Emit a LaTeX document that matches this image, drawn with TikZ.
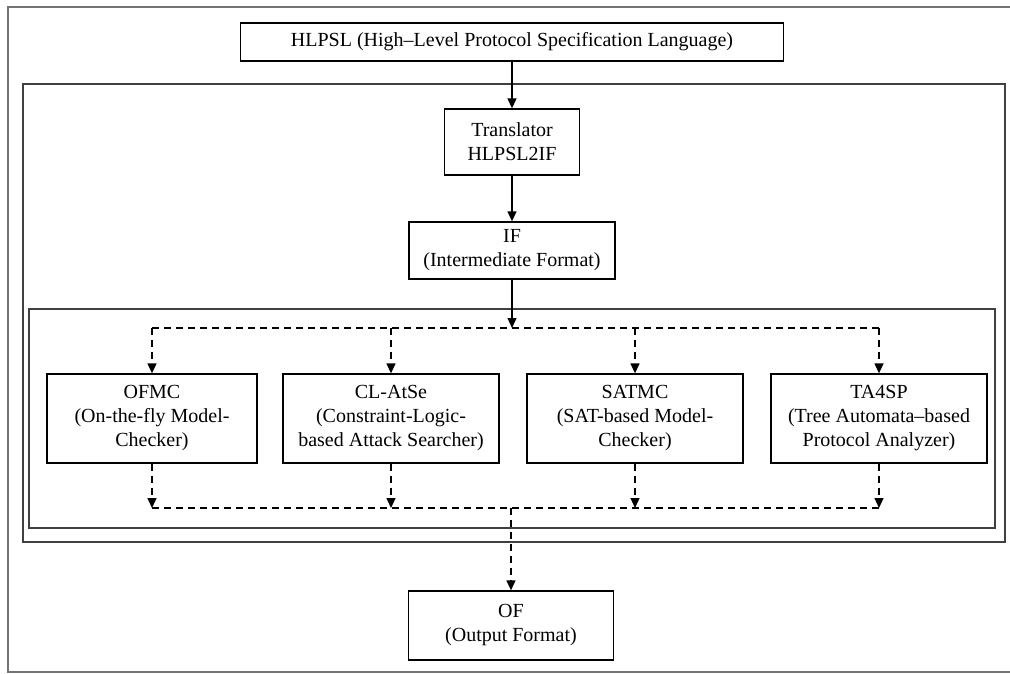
\documentclass[tikz,border=0pt]{standalone}
\usepackage{fontspec}
\setmainfont{Liberation Serif}
\usetikzlibrary{arrows.meta}
\begin{document}
\begin{tikzpicture}[x=1pt,y=-1pt,
  box/.style={draw=black,line width=1.3pt,rectangle,inner sep=0pt,align=center,
    font=\fontsize{20}{24}\selectfont},
  container/.style={draw=black!75,line width=1.5pt,rectangle,inner sep=0pt},
  frame/.style={draw=black!55,line width=1.4pt,rectangle,inner sep=0pt},
  solidarrow/.style={line width=1.3pt,-{Triangle[length=10pt,width=9pt]}},
  dashline/.style={line width=1.3pt,dash pattern=on 7pt off 5pt},
  dasharrow/.style={dashline,-{Triangle[length=10pt,width=9pt]}}]
\useasboundingbox (0,0) rectangle (1010,674);
% frames (the outer frame runs past the right edge of the picture)
\node[frame,minimum width=1006pt,minimum height=665pt] (outer) at (511,339.5) {};
\node[container,minimum width=982pt,minimum height=458pt] (big) at (514,313) {};
\node[container,minimum width=966pt,minimum height=219pt] (inner) at (512,418.5) {};
% boxes
\node[box,minimum width=543pt,minimum height=38pt] (hlpsl) at (512,42) {HLPSL (High--Level Protocol Specification Language)};
\node[box,minimum width=135pt,minimum height=66pt] (trans) at (512,142) {Translator\\HLPSL2IF};
\node[box,minimum width=206pt,minimum height=57pt] (if) at (512,250.5) {IF\\(Intermediate Format)};
\node[box,minimum width=210pt,minimum height=89pt] (ofmc) at (152,418.5) {OFMC\\(On-the-fly Model-\\Checker)};
\node[box,minimum width=216pt,minimum height=89pt] (clatse) at (391,418.5) {CL-AtSe\\(Constraint-Logic-\\based Attack Searcher)};
\node[box,minimum width=216pt,minimum height=89pt] (satmc) at (635,418.5) {SATMC\\(SAT-based Model-\\Checker)};
\node[box,minimum width=216pt,minimum height=89pt] (ta4sp) at (879,418.5) {TA4SP\\(Tree Automata--based\\Protocol Analyzer)};
\node[box,minimum width=205pt,minimum height=69pt] (of) at (511,625.5) {OF\\(Output Format)};
% junctions
\coordinate (jtop) at (512,328);
\coordinate (jbot) at (511,508);
% solid arrows
\draw[solidarrow] (hlpsl.south) -- (trans.north);
\draw[solidarrow] (trans.south) -- (if.north);
\draw[solidarrow] (if.south) -- (jtop);
% top distribution
\draw[dashline] (ofmc.north |- jtop) -- (ta4sp.north |- jtop);
\foreach \b in {ofmc,clatse,satmc,ta4sp}{
  \draw[dasharrow] (\b.north |- jtop) -- (\b.north);
  \draw[dasharrow] (\b.south) -- (\b.south |- jbot);
}
% bottom collection
\draw[dashline] (ofmc.south |- jbot) -- (ta4sp.south |- jbot);
\draw[dasharrow] (jbot) -- (of.north);
\end{tikzpicture}
\end{document}
